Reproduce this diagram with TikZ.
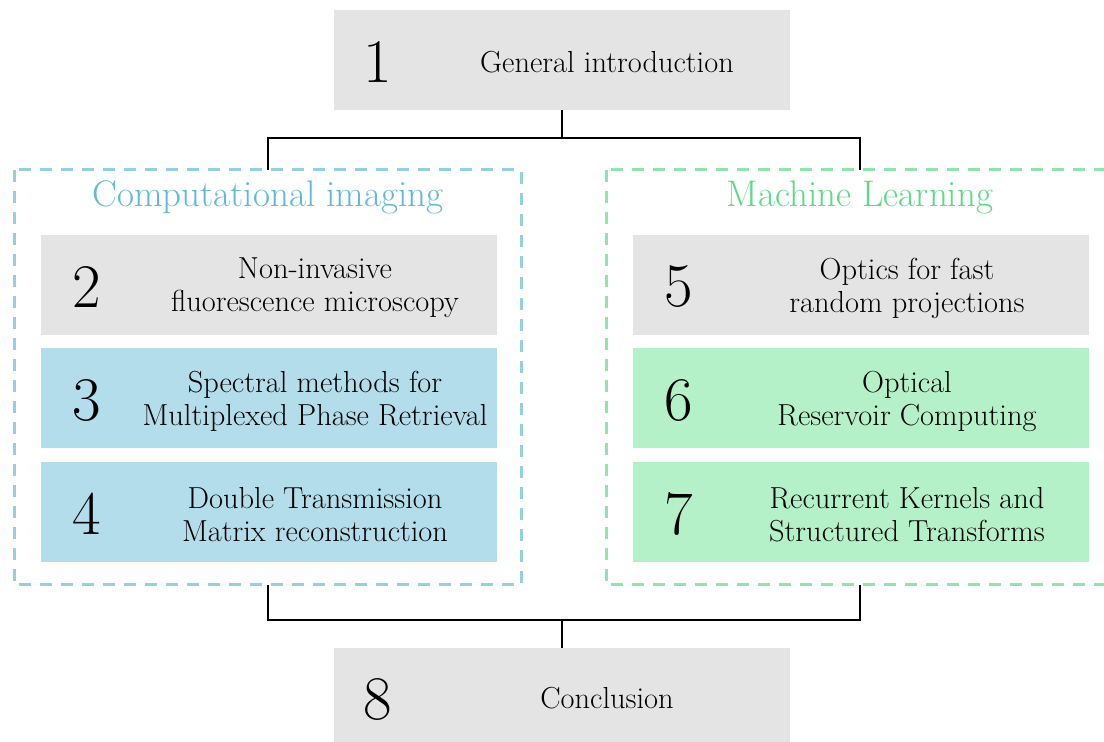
\documentclass[tikz,border=0pt]{standalone}
\usepackage{tikz}
\usetikzlibrary{positioning}
\definecolor{boxgray}{HTML}{E4E4E4}
\definecolor{imgblue}{HTML}{B3DDEA}
\definecolor{imgframe}{HTML}{92D0E2}
\definecolor{imgtitle}{HTML}{62B9D6}
\definecolor{mlgreen}{HTML}{B4F0C8}
\definecolor{mlframe}{HTML}{8EE6AA}
\definecolor{mltitle}{HTML}{5DDA88}

\begin{document}
\begin{tikzpicture}[x=0.5pt,y=-0.5pt,
  box/.style={inner sep=0pt, minimum width=228pt, minimum height=50pt},
  num/.style={font=\fontsize{31}{31}\selectfont},
  txt/.style={align=center, font=\fontsize{15.2}{16.5}\selectfont},
  title/.style={font=\fontsize{18.5}{20}\selectfont},
  frame/.style={line width=1.5pt, dash pattern=on 6pt off 4.5pt},
  link/.style={line width=1pt}]
  \useasboundingbox (0,0) rectangle (1104,742);

  % chapter boxes
  \node[box, fill=boxgray] (b1) at (562,60) {};
  \node[box, fill=boxgray] (b2) at (269,285) {};
  \node[box, fill=imgblue] (b3) at (269,398.5) {};
  \node[box, fill=imgblue] (b4) at (269,512) {};
  \node[box, fill=boxgray] (b5) at (861,285) {};
  \node[box, fill=mlgreen] (b6) at (861,398.5) {};
  \node[box, fill=mlgreen] (b7) at (861,512) {};
  \node[box, fill=boxgray] (b8) at (562,698) {};

  % numbers and titles
  \node[num] (n1) at ([xshift=22pt,yshift=-1pt]b1.west) {1};
  \node[txt] (t1) at ([xshift=22.5pt,yshift=-1pt]b1.center) {General introduction};
  \node[num] (n2) at ([xshift=23pt,yshift=-1pt]b2.west) {2};
  \node[txt] (t2) at ([xshift=23pt,yshift=-1.5pt]b2.center) {Non-invasive\\fluorescence microscopy};
  \node[num] (n3) at ([xshift=23pt,yshift=-1pt]b3.west) {3};
  \node[txt] (t3) at ([xshift=23pt,yshift=-1.5pt]b3.center) {Spectral methods for\\Multiplexed Phase Retrieval};
  \node[num] (n4) at ([xshift=23pt,yshift=-1pt]b4.west) {4};
  \node[txt] (t4) at ([xshift=23pt,yshift=-1.5pt]b4.center) {Double Transmission\\Matrix reconstruction};
  \node[num] (n5) at ([xshift=23pt,yshift=-1pt]b5.west) {5};
  \node[txt] (t5) at ([xshift=23pt,yshift=-1.5pt]b5.center) {Optics for fast\\random projections};
  \node[num] (n6) at ([xshift=23pt,yshift=-1pt]b6.west) {6};
  \node[txt] (t6) at ([xshift=23pt,yshift=-1.5pt]b6.center) {Optical\\Reservoir Computing};
  \node[num] (n7) at ([xshift=23pt,yshift=-1pt]b7.west) {7};
  \node[txt] (t7) at ([xshift=23pt,yshift=-1.5pt]b7.center) {Recurrent Kernels and\\Structured Transforms};
  \node[num] (n8) at ([xshift=22pt,yshift=-1pt]b8.west) {8};
  \node[txt] (t8) at ([xshift=22.5pt]b8.center) {Conclusion};

  % the two parts
  \draw[frame, imgframe] (14,170) rectangle (521,585);
  \draw[frame, mlframe] (606,170) rectangle (1113,585);
  \node[title, text=imgtitle] (ci) at (268,197) {Computational imaging};
  \node[title, text=mltitle] (ml) at (860,197) {Machine Learning};

  % connectors
  \coordinate (citop) at (268,170);
  \coordinate (mltop) at (860,170);
  \coordinate (cibot) at (268,585);
  \coordinate (mlbot) at (860,585);
  \coordinate (split) at (562,138);
  \coordinate (merge) at (562,620);
  \draw[link] (b1.south) -- (split);
  \draw[link] (citop) |- (split) -| (mltop);
  \draw[link] (cibot) |- (merge) -| (mlbot);
  \draw[link] (merge) -- (b8.north);
\end{tikzpicture}
\end{document}
